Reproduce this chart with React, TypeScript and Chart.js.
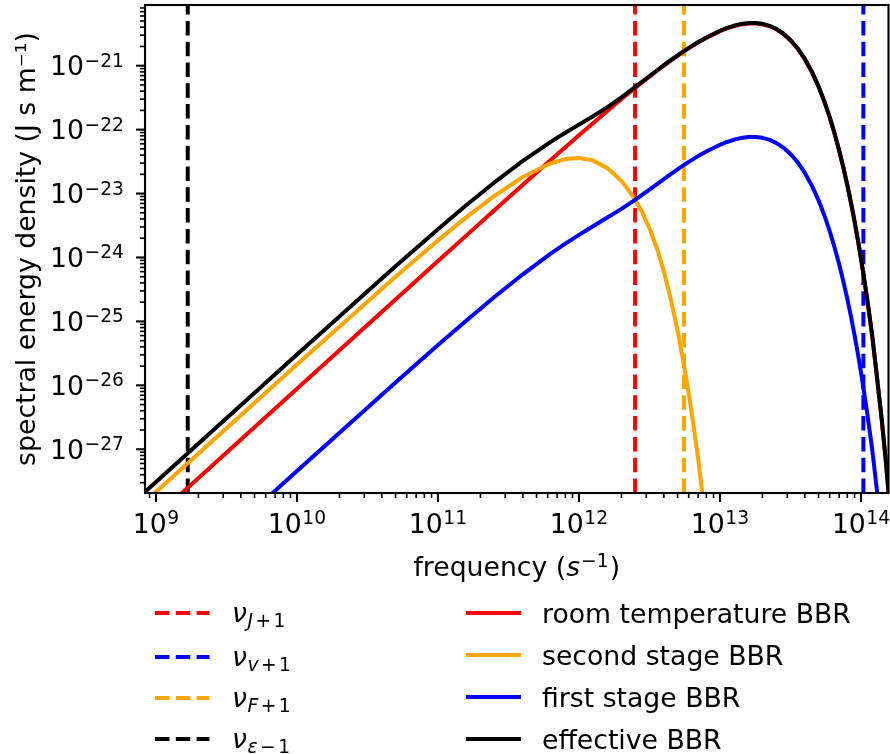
import React, { useEffect, useRef } from "react";
import { Chart, registerables } from "chart.js";

Chart.register(...registerables);

// ---- data ----
const FREQ = [
  8e8, 1e9, 1e10, 5e10, 1e11, 1.6e11, 2.5e11, 4e11, 6.3e11, 8e11,
  1e12, 1.25e12, 1.6e12, 1.8e12, 2e12, 2.25e12, 2.5e12, 2.8e12, 3.2e12, 3.6e12,
  4e12, 4.5e12, 5e12, 5.5e12, 6e12, 6.5e12, 7e12, 8e12, 1e13, 1.12e13,
  1.25e13, 1.4e13, 1.6e13, 1.8e13, 2e13, 2.25e13, 2.5e13, 2.8e13, 3.2e13, 3.6e13,
  4e13, 4.5e13, 5e13, 5.5e13, 6e13, 6.5e13, 7e13, 7.5e13, 8e13, 8.5e13,
  9e13, 9.5e13, 1e14, 1.1e14, 1.2e14, 1.3e14, 1.4e14, 1.5e14, 1.55e14, 1.6e14,
];

const ROOM_BBR = [
  5.67e-29, 8.86e-29, 8.85e-27, 2.206e-25, 8.79e-25, 2.238e-24, 5.42e-24, 1.371e-23, 3.336e-23, 5.3e-23,
  8.15e-23, 1.246e-22, 1.981e-22, 2.464e-22, 2.989e-22, 3.702e-22, 4.47e-22, 5.46e-22, 6.88e-22, 8.4e-22,
  1.0e-21, 1.208e-21, 1.423e-21, 1.643e-21, 1.864e-21, 2.084e-21, 2.302e-21, 2.721e-21, 3.464e-21, 3.828e-21,
  4.142e-21, 4.4e-21, 4.576e-21, 4.582e-21, 4.447e-21, 4.132e-21, 3.717e-21, 3.159e-21, 2.421e-21, 1.774e-21,
  1.253e-21, 7.803e-22, 4.677e-22, 2.717e-22, 1.543e-22, 8.57e-23, 4.684e-23, 2.517e-23, 1.337e-23, 7.01e-24,
  3.64e-24, 1.873e-24, 9.55e-25, 2.43e-25, 6.0e-26, 1.3e-26, 3.0e-27, 6.5e-28, 2.8e-28, 1.3e-28,
];

const SECOND_STAGE_BBR = [
  1.372e-28, 2.144e-28, 2.116e-26, 4.99e-25, 1.85e-24, 4.315e-24, 9.125e-24, 1.816e-23, 2.975e-23, 3.459e-23,
  3.603e-23, 3.303e-23, 2.46e-23, 1.949e-23, 1.566e-23, 1.126e-23, 8.0e-24, 5.18e-24, 2.69e-24, 1.32e-24,
  6.02e-25, 2.12e-25, 7.16e-26, 2.35e-26, 7.46e-27, 2.32e-27, 7.08e-28, 6.25e-29, null, null,
  null, null, null, null, null, null, null, null, null, null,
  null, null, null, null, null, null, null, null, null, null,
  null, null, null, null, null, null, null, null, null, null,
];

const FIRST_STAGE_BBR = [
  2.95e-30, 4.61e-30, 4.58e-28, 1.11e-26, 4.28e-26, 1.046e-25, 2.387e-25, 5.46e-25, 1.147e-24, 1.645e-24,
  2.26e-24, 3.06e-24, 4.25e-24, 4.98e-24, 5.76e-24, 6.83e-24, 7.99e-24, 9.51e-24, 1.176e-23, 1.421e-23,
  1.682e-23, 2.026e-23, 2.384e-23, 2.751e-23, 3.121e-23, 3.489e-23, 3.854e-23, 4.555e-23, 5.8e-23, 6.408e-23,
  6.93e-23, 7.37e-23, 7.66e-23, 7.67e-23, 7.44e-23, 6.917e-23, 6.22e-23, 5.288e-23, 4.05e-23, 2.97e-23,
  2.1e-23, 1.306e-23, 7.83e-24, 4.548e-24, 2.58e-24, 1.435e-24, 7.84e-25, 4.213e-25, 2.24e-25, 1.174e-25,
  6.09e-26, 3.135e-26, 1.6e-26, 4.07e-27, 1.01e-27, 2.2e-28, 5.0e-29, null, null, null,
];

const EFFECTIVE_BBR = [
  1.968e-28, 3.076e-28, 3.047e-26, 7.31e-25, 2.771e-24, 6.658e-24, 1.479e-23, 3.242e-23, 6.43e-23, 8.93e-23,
  1.198e-22, 1.607e-22, 2.27e-22, 2.709e-22, 3.203e-22, 3.883e-22, 4.63e-22, 5.607e-22, 7.025e-22, 8.555e-22,
  1.017e-21, 1.228e-21, 1.447e-21, 1.671e-21, 1.895e-21, 2.119e-21, 2.341e-21, 2.767e-21, 3.522e-21, 3.892e-21,
  4.211e-21, 4.474e-21, 4.653e-21, 4.658e-21, 4.521e-21, 4.201e-21, 3.779e-21, 3.212e-21, 2.462e-21, 1.804e-21,
  1.274e-21, 7.934e-22, 4.755e-22, 2.762e-22, 1.569e-22, 8.713e-23, 4.76e-23, 2.559e-23, 1.359e-23, 7.13e-24,
  3.7e-24, 1.904e-24, 9.71e-25, 2.47e-25, 6.1e-26, 1.32e-26, 3.05e-27, 6.6e-28, 2.85e-28, 1.3e-28,
];

// vertical threshold frequencies: nu_{J+1}, nu_{v+1}, nu_{F+1}, nu_{eps-1}
const THRESHOLD_FREQ = [2.5e12, 1.04e14, 5.56e12, 1.68e9];
const THRESHOLD_COLORS = ["#ff0000", "#0000ff", "#ffa500", "#000000"];

const CURVE_LABELS = ["room temperature BBR", "second stage BBR", "first stage BBR", "effective BBR"];
const CURVE_COLORS = ["#ff0000", "#ffa500", "#0000ff", "#000000"];

const X_MIN = 8.36e8;
const X_MAX = 1.567e14;
const Y_MIN = 2.07e-28;
const Y_MAX = 8.9e-21;
const X_TICKS = [1e9, 1e10, 1e11, 1e12, 1e13, 1e14];
const Y_TICKS = [1e-27, 1e-26, 1e-25, 1e-24, 1e-23, 1e-22, 1e-21];

const FONT = '"DejaVu Sans"';
const FS = 26.7;
const SUB = 18.7;
const DASH = [14.5, 6.3];
const LW = 4;

type Seg = { t: string; italic?: boolean; size: number; dy?: number; gap?: number };

function segWidth(ctx: CanvasRenderingContext2D, segs: Seg[]) {
  let total = 0;
  for (const s of segs) {
    ctx.font = `${s.italic ? "italic " : ""}${s.size}px ${FONT}`;
    total += (s.gap || 0) + ctx.measureText(s.t).width;
  }
  return total;
}
function drawSegs(ctx: CanvasRenderingContext2D, segs: Seg[], x: number, y: number, align: "left" | "center" | "right") {
  const total = segWidth(ctx, segs);
  let cx = align === "center" ? x - total / 2 : align === "right" ? x - total : x;
  for (const s of segs) {
    cx += s.gap || 0;
    ctx.font = `${s.italic ? "italic " : ""}${s.size}px ${FONT}`;
    ctx.fillText(s.t, cx, y + (s.dy || 0));
    cx += ctx.measureText(s.t).width;
  }
}

function powSegs(v: number): Seg[] {
  const e = Math.round(Math.log10(v));
  const exp = e < 0 ? "\u2212" + String(-e) : String(e);
  return [
    { t: "10", size: FS },
    { t: exp, size: SUB, dy: -8.5, gap: 0.5 },
  ];
}

function nuLabel(sub: string, op: string): Seg[] {
  return [
    { t: "\u03BD", italic: true, size: FS },
    { t: sub, italic: true, size: SUB, dy: 5, gap: 0.5 },
    { t: op, size: SUB, dy: 5, gap: 2.5 },
    { t: "1", size: SUB, dy: 5, gap: 2.5 },
  ];
}

const LEFT_LEGEND: Seg[][] = [
  nuLabel("J", "+"),
  nuLabel("v", "+"),
  nuLabel("F", "+"),
  nuLabel("\u03B5", "\u2212"),
];
const LEFT_ROWS = [613, 657, 698, 739];
const RIGHT_ROWS = [613, 655, 697, 739];

const decorPlugin = {
  id: "decor",
  afterDatasetsDraw(chart: any) {
    const { ctx, chartArea: a, scales } = chart;
    const xs = scales.x;
    const ys = scales.y;
    ctx.save();
    ctx.strokeStyle = "#000";
    ctx.setLineDash([]);
    ctx.lineCap = "butt";
    for (let e = 8; e <= 14; e++) {
      for (let m = 1; m <= 9; m++) {
        const v = m * Math.pow(10, e);
        if (v < xs.min || v > xs.max) continue;
        const px = xs.getPixelForValue(v);
        const major = m === 1;
        ctx.lineWidth = major ? 2.1 : 1.6;
        ctx.beginPath();
        ctx.moveTo(px, a.bottom);
        ctx.lineTo(px, a.bottom + (major ? 9 : 5));
        ctx.stroke();
      }
    }
    for (let e = -29; e <= -20; e++) {
      for (let m = 1; m <= 9; m++) {
        const v = m * Math.pow(10, e);
        if (v < ys.min || v > ys.max) continue;
        const py = ys.getPixelForValue(v);
        const major = m === 1;
        ctx.lineWidth = major ? 2.1 : 1.6;
        ctx.beginPath();
        ctx.moveTo(a.left, py);
        ctx.lineTo(a.left - (major ? 9 : 5), py);
        ctx.stroke();
      }
    }
    ctx.lineWidth = 2.1;
    ctx.strokeRect(a.left, a.top, a.right - a.left, a.bottom - a.top);
    ctx.restore();
  },
  afterDraw(chart: any) {
    const { ctx, chartArea: a, scales } = chart;
    ctx.save();
    ctx.fillStyle = "#000";
    ctx.textAlign = "left";
    ctx.textBaseline = "alphabetic";
    // tick labels (positions from the scales)
    for (const t of scales.x.ticks) {
      const px = scales.x.getPixelForValue(t.value);
      drawSegs(ctx, powSegs(t.value), px, a.bottom + 39.5, "center");
    }
    for (const t of scales.y.ticks) {
      const py = scales.y.getPixelForValue(t.value);
      drawSegs(ctx, powSegs(t.value), a.left - 21, py + 9.5, "right");
    }
    // x axis title
    drawSegs(
      ctx,
      [
        { t: "frequency (", size: FS },
        { t: "s", italic: true, size: FS },
        { t: "\u22121", size: SUB, dy: -9, gap: 1 },
        { t: ")", size: FS, gap: 1 },
      ],
      (a.left + a.right) / 2,
      576,
      "center"
    );
    // legend
    ctx.lineWidth = LW;
    ctx.lineCap = "butt";
    for (let i = 0; i < 4; i++) {
      const y = LEFT_ROWS[i];
      ctx.strokeStyle = THRESHOLD_COLORS[i];
      ctx.setLineDash(DASH);
      ctx.beginPath();
      ctx.moveTo(155, y);
      ctx.lineTo(209.5, y);
      ctx.stroke();
      ctx.setLineDash([]);
      drawSegs(ctx, LEFT_LEGEND[i], 232, y + 9, "left");
    }
    for (let i = 0; i < 4; i++) {
      const y = RIGHT_ROWS[i];
      ctx.strokeStyle = CURVE_COLORS[i];
      ctx.setLineDash([]);
      ctx.beginPath();
      ctx.moveTo(466, y);
      ctx.lineTo(521, y);
      ctx.stroke();
      ctx.font = `${FS}px ${FONT}`;
      ctx.fillText(CURVE_LABELS[i], 542, y + 9.5);
    }
    ctx.restore();
  },
};

function series(values: (number | null)[]) {
  return FREQ.map((f, i) => ({ x: f, y: values[i] }));
}

export default function App() {
  const ref = useRef<HTMLCanvasElement>(null);
  useEffect(() => {
    const curves = [ROOM_BBR, SECOND_STAGE_BBR, FIRST_STAGE_BBR, EFFECTIVE_BBR];
    const curveOrder = [3, 2, 1, 0];
    const datasets: any[] = [];
    THRESHOLD_FREQ.forEach((f, i) => {
      datasets.push({
        label: "threshold " + i,
        data: [
          { x: f, y: Y_MIN },
          { x: f, y: Y_MAX },
        ],
        borderColor: THRESHOLD_COLORS[i],
        borderWidth: LW,
        borderDash: DASH,
        borderCapStyle: "butt",
        pointRadius: 0,
        fill: false,
        clip: 0,
        order: 10 + i,
      });
    });
    curves.forEach((vals, i) => {
      datasets.push({
        label: CURVE_LABELS[i],
        data: series(vals),
        borderColor: CURVE_COLORS[i],
        borderWidth: LW,
        borderJoinStyle: "round",
        borderCapStyle: "butt",
        pointRadius: 0,
        tension: 0,
        fill: false,
        spanGaps: false,
        clip: 0,
        order: curveOrder[i],
      });
    });

    const zeroPad = (s: any) => {
      s.paddingLeft = 0;
      s.paddingRight = 0;
      s.paddingTop = 0;
      s.paddingBottom = 0;
    };

    const chart = new Chart(ref.current as HTMLCanvasElement, {
      type: "line",
      data: { datasets },
      options: {
        responsive: false,
        animation: false,
        devicePixelRatio: 1,
        layout: { padding: { left: 0, top: 5, right: 1.5, bottom: 0 } },
        plugins: { legend: { display: false }, tooltip: { enabled: false } },
        elements: { point: { radius: 0 } },
        scales: {
          x: {
            type: "logarithmic",
            min: X_MIN,
            max: X_MAX,
            bounds: "data",
            grid: { display: false, drawTicks: false },
            border: { display: false },
            ticks: { display: false, autoSkip: false },
            afterBuildTicks: (s: any) => {
              s.ticks = X_TICKS.map((v) => ({ value: v }));
            },
            afterFit: (s: any) => {
              s.height = 261;
              zeroPad(s);
            },
          },
          y: {
            type: "logarithmic",
            min: Y_MIN,
            max: Y_MAX,
            bounds: "data",
            grid: { display: false, drawTicks: false },
            border: { display: false },
            title: {
              display: true,
              text: "spectral energy density (J s m\u207B\u00B9)",
              color: "#000",
              font: { family: FONT, size: FS },
              padding: { top: 12, bottom: 0 },
            },
            ticks: { display: false, autoSkip: false },
            afterBuildTicks: (s: any) => {
              s.ticks = Y_TICKS.map((v) => ({ value: v }));
            },
            afterFit: (s: any) => {
              s.width = 145;
              zeroPad(s);
            },
          },
        },
      },
      plugins: [decorPlugin],
    } as any);
    return () => chart.destroy();
  }, []);

  return (
    <div style={{ position: "absolute", left: 0, top: 0, width: 890, height: 754, background: "#fff" }}>
      <canvas ref={ref} width={890} height={754} style={{ display: "block", width: 890, height: 754 }} />
    </div>
  );
}
